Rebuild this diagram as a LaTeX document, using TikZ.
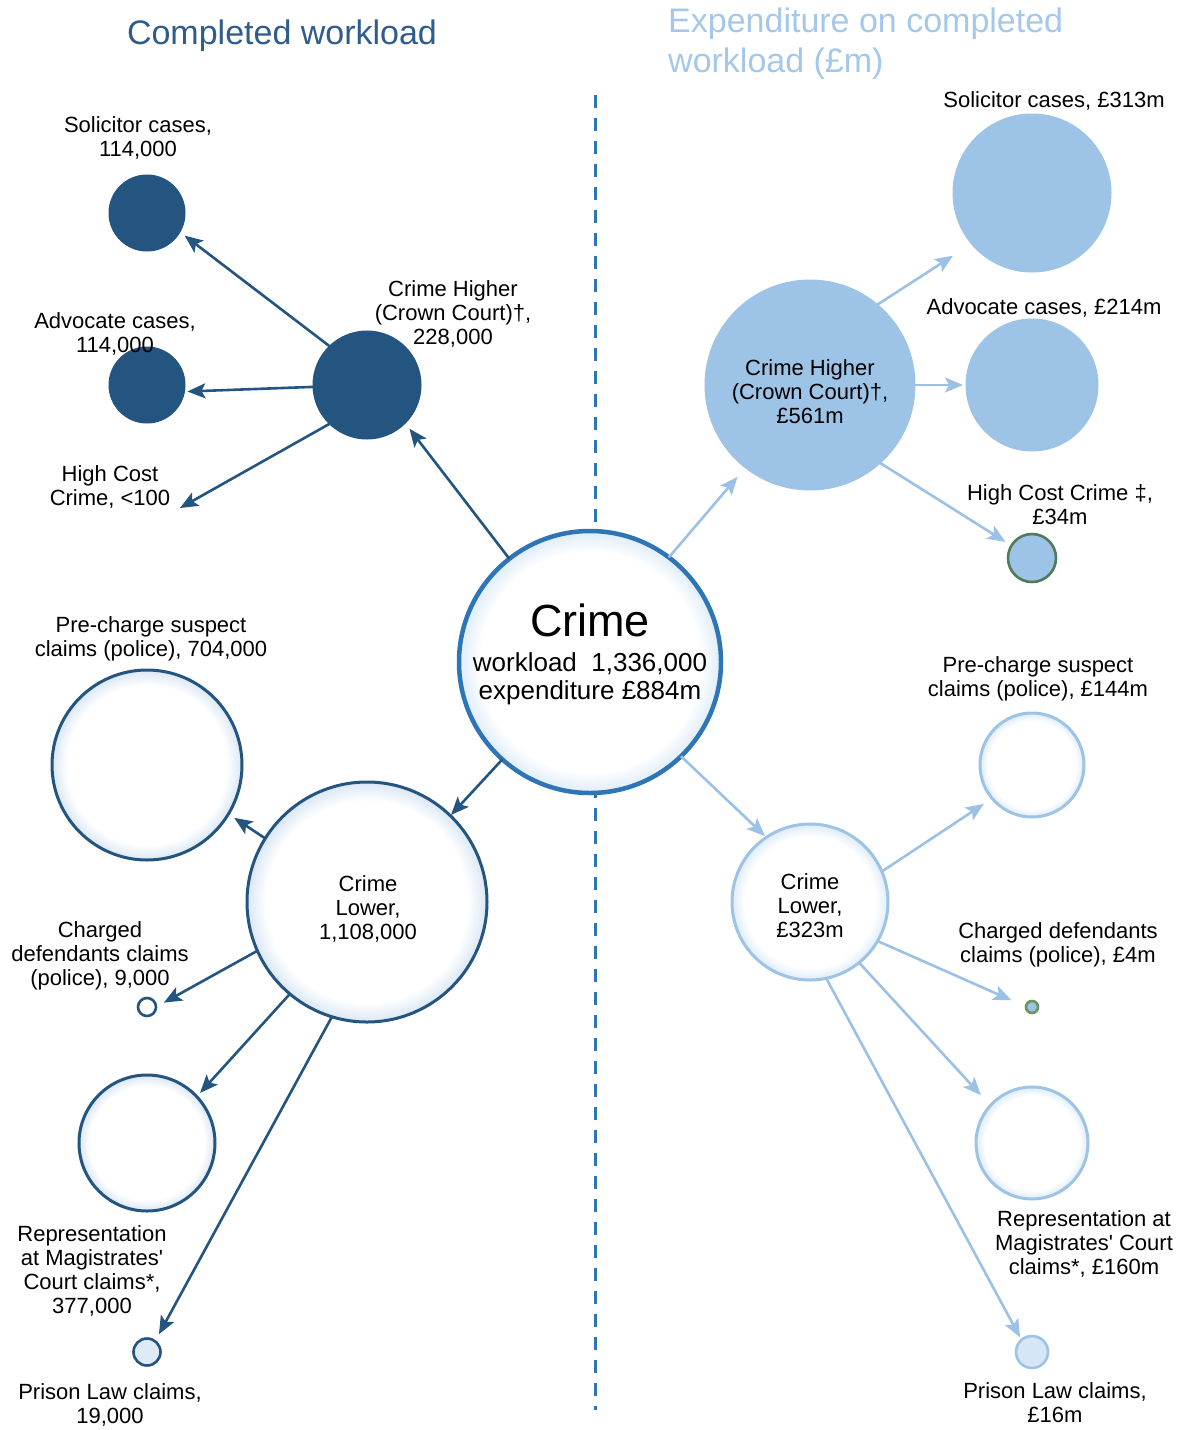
\documentclass[tikz,border=0pt]{standalone}
\usepackage{fontspec}
\setmainfont{Liberation Sans}
\usetikzlibrary{arrows.meta}
\definecolor{navy}{RGB}{36,84,128}
\definecolor{titleL}{RGB}{46,92,140}
\definecolor{crimeb}{RGB}{46,117,182}
\definecolor{lightb}{RGB}{157,195,230}
\definecolor{titleR}{RGB}{165,200,234}
\definecolor{arrb}{RGB}{155,194,230}
\definecolor{greenb}{RGB}{80,122,90}
\definecolor{greenc}{RGB}{105,150,95}
\definecolor{glowLc}{RGB}{218,231,245}
\definecolor{glowRc}{RGB}{222,236,248}
\definecolor{paleL}{RGB}{222,234,246}
\definecolor{paleR}{RGB}{214,230,246}
\pgfdeclareradialshading{glowL}{\pgfpoint{0bp}{0bp}}{color(0bp)=(white); color(21bp)=(white); color(25bp)=(glowLc); color(50bp)=(glowLc)}
\pgfdeclareradialshading{glowR}{\pgfpoint{0bp}{0bp}}{color(0bp)=(white); color(21bp)=(white); color(25bp)=(glowRc); color(50bp)=(glowRc)}
\begin{document}
\begin{tikzpicture}[x=1pt,y=-1pt,
  bub/.style={circle, inner sep=0pt, outer sep=0pt, minimum size=#1},
  darkfill/.style={fill=navy, draw=navy, line width=1pt},
  lightfill/.style={fill=lightb, draw=lightb, line width=1pt},
  outL/.style={draw=navy, line width=3pt, shading=glowL},
  outR/.style={draw=lightb, line width=3pt, shading=glowR},
  lab/.style={font=\fontsize{22}{24}\selectfont, align=center, text=black, inner sep=0pt},
  arrL/.style={draw=navy, line width=2.6pt, -{Stealth[length=18pt,width=15pt,inset=4pt]}},
  arrR/.style={draw=arrb, line width=2.6pt, -{Stealth[length=18pt,width=15pt,inset=4pt]}},
  divider/.style={draw=crimeb, line width=3pt, dash pattern=on 13pt off 10pt}
]
\useasboundingbox (0,0) rectangle (1181,1430);
\fill[white] (0,0) rectangle (1181,1430);

% titles
\node[font=\fontsize{34}{40}\selectfont, text=titleL, inner sep=0pt] (tL) at (282,36) {Completed workload};
\node[font=\fontsize{34}{40}\selectfont, text=titleR, inner sep=0pt, anchor=west, align=left] (tR) at (668,44) {Expenditure on completed\\workload (£m)};

% divider
\coordinate (dtop) at (595,95);
\coordinate (dbot) at (595,1410);
\draw[divider] (dtop) -- (dbot);

% centre
\node[bub=262pt, draw=crimeb, line width=4.5pt, shading=glowR] (crime) at (590,662) {};
\node[font=\fontsize{26}{28}\selectfont, align=center, inner sep=0pt, text=black] (crimetxt) at (590,654)
  {{\fontsize{45}{45}\selectfont Crime}\\[7pt]workload\ \ 1,336,000\\expenditure £884m};

% left: crime higher branch
\node[bub=108pt, darkfill] (chL) at (367,385) {};
\node[bub=76pt, darkfill] (solL) at (147,213) {};
\node[bub=76pt, darkfill] (advL) at (147,385) {};
\coordinate (hcL) at (180,508);

% left: crime lower branch
\node[bub=240pt, outL] (clL) at (367,902) {};
\node[lab] (tclL) at (368,909) {Crime\\Lower,\\1,108,000};
\node[bub=190pt, outL] (preL) at (147,765) {};
\node[bub=18pt, outL, line width=2.6pt] (chgL) at (147,1007) {};
\node[bub=136pt, outL] (repL) at (147,1143) {};
\node[bub=27pt, draw=navy, line width=2.6pt, fill=paleL] (prisL) at (147,1352) {};

% right: crime higher branch
\node[bub=210pt, lightfill] (chR) at (810,385) {};
\node[lab] (tchR) at (810,392) {Crime Higher\\(Crown Court)†,\\£561m};
\node[bub=158pt, lightfill] (solR) at (1032,193) {};
\node[bub=132pt, lightfill] (advR) at (1032,385) {};
\node[bub=48pt, fill=lightb, draw=greenb, line width=2.6pt] (hcR) at (1032,558) {};

% right: crime lower branch
\node[bub=156pt, outR] (clR) at (810,902) {};
\node[lab] (tclR) at (810,906) {Crime\\Lower,\\£323m};
\node[bub=104pt, outR] (preR) at (1032,765) {};
\node[bub=12pt, fill=lightb, draw=greenc, line width=2.6pt] (chgR) at (1032,1007) {};
\node[bub=112pt, outR] (repR) at (1032,1143) {};
\node[bub=32pt, draw=lightb, line width=2.6pt, fill=paleR] (prisR) at (1032,1352) {};

% labels left
\node[lab] (lsolL) at (138,138) {Solicitor cases,\\114,000};
\node[lab] (ladvL) at (115,334) {Advocate cases,\\114,000};
\node[lab] (lchL) at (453,314) {Crime Higher\\(Crown Court)†,\\228,000};
\node[lab] (lhcL) at (110,487) {High Cost\\Crime, <100};
\node[lab] (lpreL) at (151,639) {Pre-charge suspect\\claims (police), 704,000};
\node[lab] (lchgL) at (100,956) {Charged\\defendants claims\\(police), 9,000};
\node[lab] (lrepL) at (92,1271) {Representation\\at Magistrates\textquotesingle\\Court claims*,\\377,000};
\node[lab] (lprisL) at (110,1405) {Prison Law claims,\\19,000};

% labels right
\node[lab] (lsolR) at (1054,101) {Solicitor cases, £313m};
\node[lab] (ladvR) at (1044,308) {Advocate cases, £214m};
\node[lab] (lhcR) at (1060,505) {High Cost Crime ‡,\\£34m};
\node[lab] (lpreR) at (1038,679) {Pre-charge suspect\\claims (police), £144m};
\node[lab] (lchgR) at (1058,945) {Charged defendants\\claims (police), £4m};
\node[lab] (lrepR) at (1084,1244) {Representation at\\Magistrates\textquotesingle{} Court\\claims*, £160m};
\node[lab] (lprisR) at (1055,1403) {Prison Law claims,\\£16m};

% arrows left
\draw[arrL, shorten >=7pt] (crime.128) -- (chL.315);
\draw[arrL, shorten >=6pt] (chL.134) -- (solL.330);
\draw[arrL, shorten >=3pt] (chL.182) -- (advL.350);
\draw[arrL] (chL.226) -- (hcL);
\draw[arrL, shorten >=1pt] (crime.228) -- (clL.46);
\draw[arrL, shorten >=7pt] (clL.148) -- (preL.329);
\draw[arrL, shorten >=9pt] (clL.204) -- (chgL.0);
\draw[arrL, shorten >=5pt] (clL.230) -- (repL.43);
\draw[arrL, shorten >=8pt] (clL.253) -- (prisL.53);

% arrows right
\draw[arrR, shorten >=12pt] (crime.53) -- (chR.232);
\draw[arrR, shorten >=22pt] (chR.50) -- (solR.220);
\draw[arrR, shorten >=3pt] (chR.0) -- (advR.180);
\draw[arrR, shorten >=7pt] (chR.312) -- (hcR.149);
\draw[arrR, shorten >=2pt] (crime.314) -- (clR.124);
\draw[arrR, shorten >=10pt] (clR.23) -- (preR.220);
\draw[arrR, shorten >=16pt] (clR.330) -- (chgR.177);
\draw[arrR, shorten >=14pt] (clR.309) -- (repR.138);
\draw[arrR, shorten >=3pt] (clR.282) -- (prisR.131);
\end{tikzpicture}
\end{document}
